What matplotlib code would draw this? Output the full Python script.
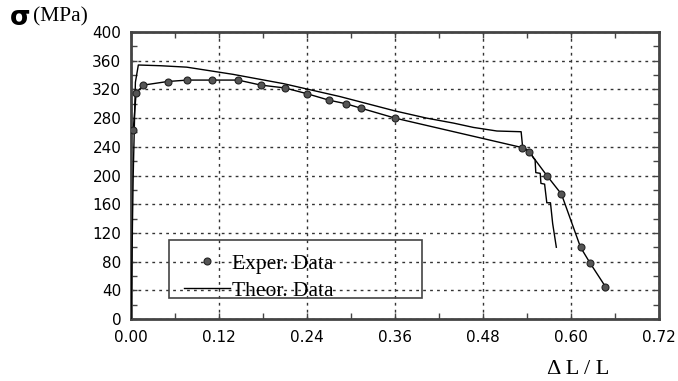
import matplotlib
matplotlib.use("Agg")
import matplotlib.pyplot as plt
from matplotlib.patches import Rectangle
from matplotlib.ticker import MultipleLocator, FormatStrFormatter

exp_strain = [0.003, 0.007, 0.017, 0.050, 0.077, 0.110, 0.146, 0.177, 0.210, 0.240,
              0.270, 0.293, 0.313, 0.360, 0.533, 0.543, 0.567, 0.587, 0.613, 0.626, 0.647]
exp_stress = [263, 315, 326, 331, 333, 333, 333, 326, 322, 314,
              305, 300, 294, 280, 239, 233, 200, 174, 100, 78, 45]

theo_strain = [0.000, 0.003, 0.006, 0.010, 0.040, 0.076, 0.139, 0.208, 0.285, 0.360,
               0.403, 0.440, 0.467, 0.499, 0.532, 0.534, 0.544, 0.549, 0.551, 0.552, 0.558,
               0.559, 0.564, 0.567, 0.572, 0.575, 0.580]
theo_stress = [0, 200, 330, 354, 353, 351, 341, 328, 310, 290,
               280, 273, 267, 262, 261, 240, 233, 224, 222, 204, 203,
               189, 188, 162, 162, 133, 100]

fig = plt.figure(figsize=(6.78, 3.81), dpi=100)
ax = fig.add_axes([131/678, 1-319/381, 528/678, 287/381])

ax.plot(theo_strain, theo_stress, color="black", lw=1.0, label="Theor. Data", zorder=3)
ax.plot(exp_strain, exp_stress, color="black", lw=1.0, zorder=3)
ax.plot(exp_strain, exp_stress, ls="none", marker="o", ms=5, mfc="#555555",
        mec="#222222", mew=0.8, label="Exper. Data", zorder=4)

ax.set_xlim(0, 0.72)
ax.set_ylim(0, 400)
ax.xaxis.set_major_locator(MultipleLocator(0.12))
ax.xaxis.set_minor_locator(MultipleLocator(0.06))
ax.yaxis.set_major_locator(MultipleLocator(40))
ax.yaxis.set_minor_locator(MultipleLocator(20))
ax.xaxis.set_major_formatter(FormatStrFormatter("%.2f"))
ax.tick_params(which="both", direction="in", top=True, right=True, length=4,
               width=1, color="#444444", labelsize=11)
ax.tick_params(axis="x", which="both", pad=8)
ax.tick_params(axis="y", which="both", pad=7)
ax.grid(True, which="major", ls=(0, (2, 3)), color="#333333", lw=1.0)
for s in ax.spines.values():
    s.set_linewidth(2)
    s.set_color("#444444")

# legend box
ax.add_patch(Rectangle((0.072, 0.073), 0.479, 0.202, transform=ax.transAxes,
                       fill=False, edgecolor="#444444", lw=1.2, zorder=5))

h, l = ax.get_legend_handles_labels()
leg = ax.legend([h[1], h[0]], [l[1], l[0]], loc="lower left",
                bbox_to_anchor=(0.100, 0.063), frameon=False,
                prop={"family": "Liberation Serif", "size": 15.5},
                handlelength=2.14, borderaxespad=0, labelspacing=0.33, handletextpad=0.1,
                borderpad=0)

fig.text(10/678, 1-18/381, "σ", fontsize=19, family="DejaVu Sans", va="center", ha="left", fontweight="bold")
fig.text(33/678, 1-17/381, "(MPa)", fontsize=15.5, family="Liberation Serif", va="center", ha="left")
fig.text(578/678, 1-370/381, "Δ L / L", fontsize=16, family="Liberation Serif", va="center", ha="center")

fig.savefig("out.png", dpi=100)
